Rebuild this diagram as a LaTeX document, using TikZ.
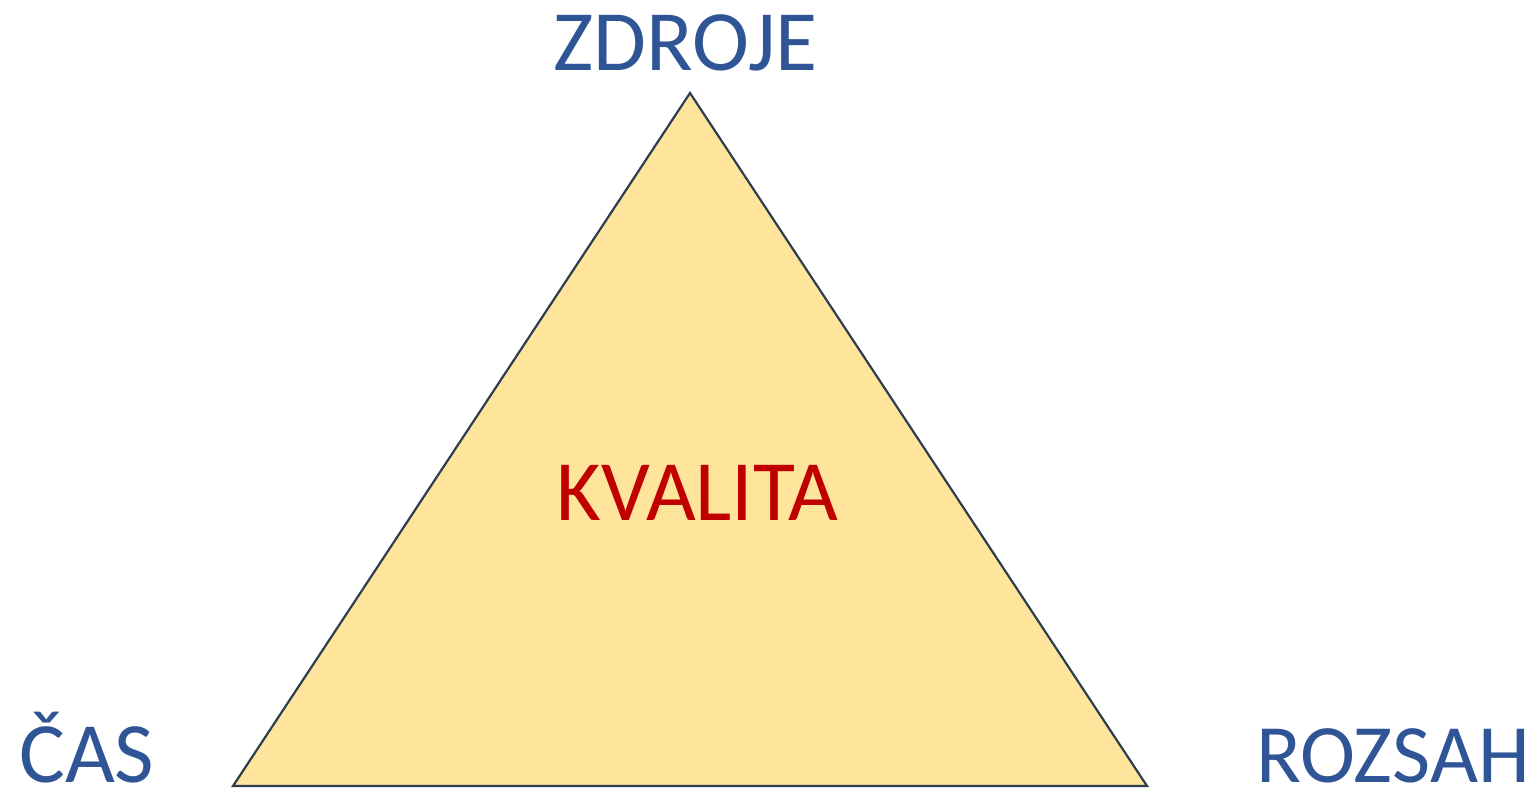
\documentclass[tikz,border=0pt]{standalone}
\usepackage{fontspec}
\setmainfont{Carlito}
\definecolor{lblblue}{HTML}{2F5597}
\definecolor{lblred}{HTML}{C00000}
\definecolor{trifill}{HTML}{FEE59B}
\definecolor{tristroke}{HTML}{2C3E50}
\begin{document}
\begin{tikzpicture}[x=1pt,y=-1pt,
  lbl/.style={inner sep=0pt, text=lblblue, font=\fontsize{86}{100}\selectfont},
  center/.style={inner sep=0pt, text=lblred, font=\fontsize{86}{100}\selectfont}]
\useasboundingbox (0,0) rectangle (1539,787);
\coordinate (top) at (690,93);
\coordinate (bl) at (233,786);
\coordinate (br) at (1147,786);
\filldraw[fill=trifill, draw=tristroke, line width=2.2pt, line join=miter] (top) -- (br) -- (bl) -- cycle;
\node[lbl, anchor=base] (zdroje) at (685.5,70) {ZDROJE};
\node[center, anchor=base] (kvalita) at (697.5,520) {KVALITA};
\node[lbl, anchor=base west] (cas) at (19,782) {ČAS};
\node[lbl, anchor=base east, font=\fontsize{83}{100}\selectfont] (rozsah) at (1530,782) {ROZSAH};
\end{tikzpicture}
\end{document}
